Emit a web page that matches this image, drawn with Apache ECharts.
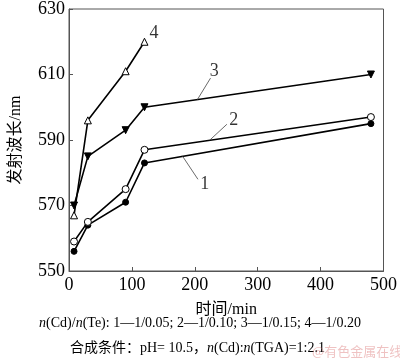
<!DOCTYPE html>
<html><head><meta charset="utf-8">
<script src="https://cdn.jsdelivr.net/npm/echarts@6/dist/echarts.min.js"></script>
<style>html,body{margin:0;padding:0;background:#fff}#c{width:400px;height:364px}</style>
</head><body><div id="c"></div>
<script>
const times = [8, 30, 90, 120, 480];
const times4 = [8, 30, 90, 120];
const s1 = [556, 564, 571, 583, 595];
const s2 = [559, 565, 575, 587, 597];
const s3 = [570, 585, 593, 600, 610];
const s4 = [567, 596, 611, 620];
const xTicks = [0, 100, 200, 300, 400, 500];
const yTicks = [550, 570, 590, 610, 630];
const leaders = [
  [[180, 585.2], [205, 578.0]],
  [[224, 590.0], [251, 594.8]],
  [[204, 602.3], [225, 608.9]]
];
const curveLabels = [['1', 216, 576.5], ['2', 262, 596], ['3', 231, 611], ['4', 135, 622.5]];

const serif = '"Liberation Serif","DejaVu Serif",serif';
const cjk = '"Liberation Serif","Noto Sans CJK SC",serif';
const chart = echarts.init(document.getElementById('c'));
const pair = (xs, ys) => xs.map((x, i) => [x, ys[i]]);
const lineStyle = {color: '#000', width: 1.6};
const series = [
  {type: 'line', data: pair(times, s1), symbol: 'circle', symbolSize: 6, lineStyle, itemStyle: {color: '#000', borderColor: '#000'}},
  {type: 'line', data: pair(times, s2), symbol: 'circle', symbolSize: 7, lineStyle, itemStyle: {color: '#fff', borderColor: '#000', borderWidth: 1}},
  {type: 'line', data: pair(times, s3), symbol: 'triangle', symbolRotate: 180, symbolSize: 7, lineStyle, itemStyle: {color: '#000', borderColor: '#000'}},
  {type: 'line', data: pair(times4, s4), symbol: 'triangle', symbolSize: 7, lineStyle, itemStyle: {color: '#fff', borderColor: '#000', borderWidth: 1}}
];
leaders.forEach(l => series.push({type: 'line', data: l, symbol: 'none', silent: true, lineStyle: {color: '#444', width: 0.8}}));
series.push({type: 'scatter', symbolSize: 0, silent: true,
  data: curveLabels.map(c => ({value: [c[1], c[2]], name: c[0]})),
  label: {show: true, position: 'inside', formatter: p => p.name, fontFamily: serif, fontSize: 18, color: '#000'}});

chart.setOption({
  animation: false,
  grid: {left: 57, right: 12, top: 5, bottom: 93, show: true, borderColor: '#555', borderWidth: 1},
  xAxis: {type: 'value', min: 0, max: 500, interval: 100,
    name: '时间/min', nameLocation: 'middle', nameGap: 31,
    nameTextStyle: {fontFamily: cjk, fontSize: 16, color: '#000'},
    axisLine: {lineStyle: {color: '#555'}}, axisTick: {inside: true, length: 4, lineStyle: {color: '#555'}},
    splitLine: {show: false},
    axisLabel: {fontFamily: serif, fontSize: 18, color: '#000', margin: 5}},
  yAxis: {type: 'value', min: 550, max: 630, interval: 20,
    name: '发射波长/nm', nameLocation: 'middle', nameGap: 45,
    nameTextStyle: {fontFamily: cjk, fontSize: 16, color: '#000'},
    axisLine: {lineStyle: {color: '#555'}}, axisTick: {inside: true, length: 4, lineStyle: {color: '#555'}},
    splitLine: {show: false},
    axisLabel: {fontFamily: serif, fontSize: 18, color: '#000', margin: 4}},
  graphic: [
    {type: 'text', left: 'center', top: 316, style: {
      text: '{i|n}(Cd)/{i|n}(Te): 1—1/0.05; 2—1/0.10; 3—1/0.15; 4—1/0.20',
      font: '14px ' + serif, fill: '#000',
      rich: {i: {fontStyle: 'italic', fontFamily: serif, fontSize: 14}}}},
    {type: 'text', left: 70, top: 341, style: {
      text: '合成条件：pH= 10.5，{i|n}(Cd):{i|n}(TGA)=1:2.1',
      font: '14px ' + cjk, fill: '#000',
      rich: {i: {fontStyle: 'italic', fontFamily: serif, fontSize: 14}}}},
    {type: 'text', left: 312, top: 345, style: {text: '@有色金属在线', font: '13px "Noto Sans CJK SC"', fill: 'rgba(220,120,120,0.45)'}}
  ],
  series
});
</script></body></html>
